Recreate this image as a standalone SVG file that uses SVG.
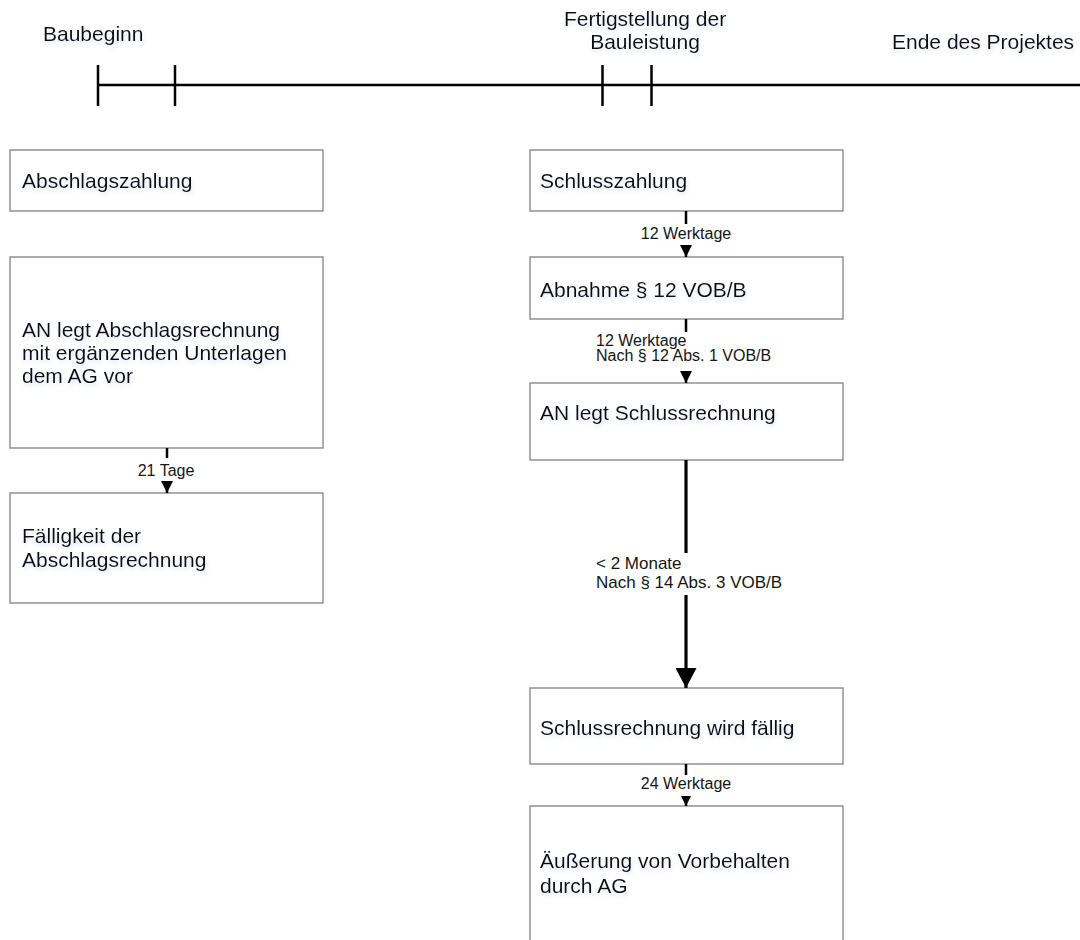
<svg xmlns="http://www.w3.org/2000/svg" width="1080" height="940" viewBox="0 0 1080 940">
  <defs>
    <filter id="glow" x="-10%" y="-30%" width="120%" height="170%">
      <feGaussianBlur in="SourceAlpha" stdDeviation="2"/>
      <feOffset dx="1" dy="3" result="b"/>
      <feFlood flood-color="#9fb3dc" flood-opacity="0.35"/>
      <feComposite in2="b" operator="in"/>
      <feMerge>
        <feMergeNode/>
        <feMergeNode in="SourceGraphic"/>
      </feMerge>
    </filter>
    <marker id="ah" viewBox="0 0 12 12" refX="12" refY="6" markerUnits="userSpaceOnUse" markerWidth="12" markerHeight="12" orient="auto">
      <path d="M0,0 L12,6 L0,12 z" fill="#000"/>
    </marker>
    <marker id="ahs" viewBox="0 0 10 10" refX="10" refY="5" markerUnits="userSpaceOnUse" markerWidth="10" markerHeight="10" orient="auto">
      <path d="M0,0 L10,5 L0,10 z" fill="#000"/>
    </marker>
    <marker id="ahb" viewBox="0 0 20 21" refX="20" refY="10.5" markerUnits="userSpaceOnUse" markerWidth="20" markerHeight="21" orient="auto">
      <path d="M0,0 L20,10.5 L0,21 z" fill="#000"/>
    </marker>
  </defs>
  <style>
    .box { fill: #fff; stroke: #8a8a8a; stroke-width: 1.4; }
    .t { font-family: "Liberation Sans", Arial, sans-serif; font-size: 21px; fill: #111; filter: url(#glow); }
    .lbl { font-family: "Liberation Sans", Arial, sans-serif; font-size: 16px; fill: #151515; }
    .big { font-size: 17px; }
    .mid { text-anchor: middle; }
    .con { stroke: #000; stroke-width: 2.5; fill: none; }
    .conb { stroke: #000; stroke-width: 3.2; fill: none; }
    .tl { stroke: #000; stroke-width: 2.5; fill: none; }
  </style>
  <rect width="1080" height="940" fill="#fff"/>

  <g id="timeline">
    <line class="tl" x1="98" y1="85" x2="1080" y2="85"/>
    <line class="tl" x1="98" y1="65" x2="98" y2="106"/>
    <line class="tl" x1="175" y1="65" x2="175" y2="106"/>
    <line class="tl" x1="602.5" y1="65" x2="602.5" y2="106"/>
    <line class="tl" x1="651.5" y1="65" x2="651.5" y2="106"/>
    <text class="t" x="43" y="41">Baubeginn</text>
    <text class="t mid" x="645" y="26">Fertigstellung der</text>
    <text class="t mid" x="645" y="49">Bauleistung</text>
    <text class="t" x="892" y="49">Ende des Projektes</text>
  </g>

  <g id="abschlagszahlung">
    <rect class="box" x="10" y="150" width="313" height="61"/>
    <text class="t" x="22" y="188">Abschlagszahlung</text>
  </g>
  <g id="an-legt-abschlagsrechnung">
    <rect class="box" x="10" y="257" width="313" height="191"/>
    <text class="t" x="22" y="337">AN legt Abschlagsrechnung</text>
    <text class="t" x="22" y="360">mit ergänzenden Unterlagen</text>
    <text class="t" x="22" y="383">dem AG vor</text>
  </g>
  <g id="faelligkeit">
    <rect class="box" x="10" y="493" width="313" height="110"/>
    <text class="t" x="22" y="543">Fälligkeit der</text>
    <text class="t" x="22" y="567">Abschlagsrechnung</text>
  </g>

  <g id="schlusszahlung">
    <rect class="box" x="530" y="150" width="313" height="61"/>
    <text class="t" x="540" y="188">Schlusszahlung</text>
  </g>
  <g id="abnahme">
    <rect class="box" x="530" y="257" width="313" height="62"/>
    <text class="t" x="540" y="297">Abnahme § 12 VOB/B</text>
  </g>
  <g id="an-legt-schlussrechnung">
    <rect class="box" x="530" y="383" width="313" height="77"/>
    <text class="t" x="540" y="420">AN legt Schlussrechnung</text>
  </g>
  <g id="schlussrechnung-faellig">
    <rect class="box" x="530" y="688" width="313" height="76"/>
    <text class="t" x="540" y="735">Schlussrechnung wird fällig</text>
  </g>
  <g id="aeusserung">
    <rect class="box" x="530" y="806" width="313" height="140"/>
    <text class="t" x="540" y="868">Äußerung von Vorbehalten</text>
    <text class="t" x="540" y="893">durch AG</text>
  </g>

  <g id="connectors">
    <line class="con" x1="167" y1="448" x2="167" y2="458"/>
    <line class="con" x1="167" y1="481" x2="167" y2="493" marker-end="url(#ah)"/>
    <text class="lbl mid" x="166" y="476">21 Tage</text>

    <line class="con" x1="686" y1="211" x2="686" y2="224"/>
    <line class="con" x1="686" y1="245" x2="686" y2="257" marker-end="url(#ah)"/>
    <text class="lbl mid" x="686" y="239">12 Werktage</text>

    <line class="con" x1="686" y1="319" x2="686" y2="332"/>
    <line class="con" x1="686" y1="371" x2="686" y2="383" marker-end="url(#ah)"/>
    <text class="lbl" x="596" y="346">12 Werktage</text>
    <text class="lbl" x="596" y="361">Nach § 12 Abs. 1 VOB/B</text>

    <line class="conb" x1="686" y1="460" x2="686" y2="553"/>
    <line class="conb" x1="686" y1="595" x2="686" y2="688" marker-end="url(#ahb)"/>
    <text class="lbl big" x="596" y="569">&lt; 2 Monate</text>
    <text class="lbl big" x="596" y="588">Nach § 14 Abs. 3 VOB/B</text>

    <line class="con" x1="686" y1="764" x2="686" y2="775"/>
    <line class="con" x1="686" y1="796" x2="686" y2="806" marker-end="url(#ahs)"/>
    <text class="lbl mid" x="686" y="789">24 Werktage</text>
  </g>
</svg>
